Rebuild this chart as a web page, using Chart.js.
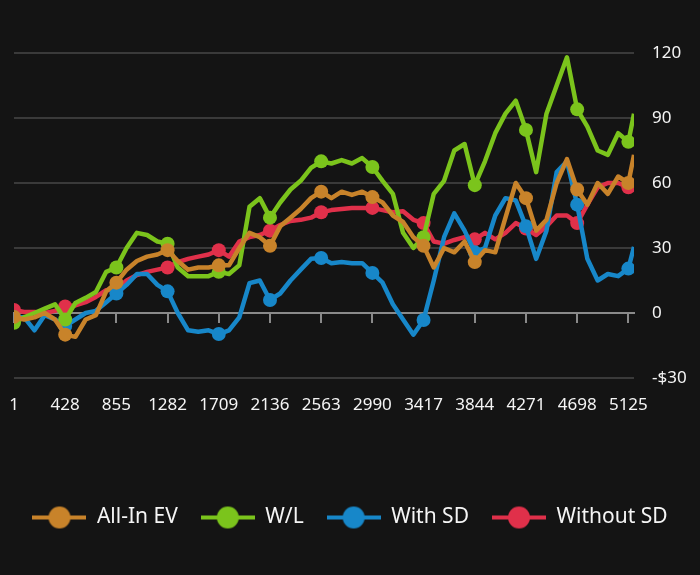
<!DOCTYPE html>
<html>
<head>
<meta charset="utf-8">
<script src="https://cdn.jsdelivr.net/npm/chart.js@4.4.1/dist/chart.umd.min.js"></script>
<style>
  html, body { margin: 0; padding: 0; background: #141414; }
  #wrap { width: 700px; height: 575px; position: relative; }
</style>
</head>
<body>
<div id="wrap"><canvas id="lineChart"></canvas></div>
<script>
// hand numbers sampled along the session
const hands = [1, 86, 172, 257, 343, 428, 513, 599, 684, 770,
  855, 940, 1026, 1111, 1197, 1282, 1367, 1453, 1538, 1624,
  1709, 1794, 1880, 1965, 2051, 2136, 2221, 2307, 2392, 2478,
  2563, 2648, 2734, 2819, 2905, 2990, 3075, 3161, 3246, 3332,
  3417, 3502, 3588, 3673, 3759, 3844, 3929, 4015, 4100, 4186,
  4271, 4356, 4442, 4527, 4613, 4698, 4783, 4869, 4954, 5040,
  5125, 5172];

const xTicks = [1, 428, 855, 1282, 1709, 2136, 2563, 2990, 3417, 3844, 4271, 4698, 5125];
const yTicks = [-30, 0, 30, 60, 90, 120];

const allInEV = [-1.8, -3, -2, 0, -3, -10, -11, -3, -1, 10,
  14, 20, 24, 26, 27, 29, 24, 20, 21, 21,
  22, 22, 30, 37, 35, 31, 40, 44, 48, 53,
  56, 53, 56, 54.5, 56, 53.5, 51, 45, 42, 35,
  31, 21, 30, 28, 33, 23.5, 29, 28, 44, 60,
  53, 38, 43, 60, 71, 57, 50, 60, 55, 63,
  60, 73];

const winLoss = [-4.5, -2, 0, 2, 4, -3, 4.6, 7, 9.7, 19,
  21, 30, 37, 36, 33, 32, 21, 17, 17, 17,
  19, 18, 22, 49, 53, 44, 51, 57, 61, 67,
  70, 69, 70.6, 69, 71.5, 67.4, 61, 55, 37, 30,
  35, 55, 61, 75, 78, 59, 70, 83, 92, 98,
  84.5, 65, 92, 105, 118, 94, 86, 75, 73, 83,
  79, 92];

const withSD = [-2, -2, -8, -1, -3, -6, -3, 0, 1, 5,
  9, 13, 18, 18, 13, 10, 0, -8, -8.7, -8,
  -9.7, -8, -2, 13.8, 15, 6, 9, 15, 20, 25,
  25.4, 23, 23.5, 23, 23, 18.5, 14, 4, -3, -10,
  -3.2, 15, 35, 46, 38, 28, 30, 45, 53, 52,
  40, 25, 38, 65, 70, 50, 25, 15, 18, 17,
  20.5, 30.5];

const withoutSD = [1.4, 0.5, 0.5, 0, 1, 3, 3.5, 5, 7.4, 10.5,
  11, 15, 17.5, 19, 20, 21, 23.5, 25, 26, 27,
  29, 26, 33, 35, 36, 38, 40.6, 42.5, 43, 44,
  46.5, 47.5, 48, 48.5, 48.5, 48.5, 47.5, 46.5, 47, 43,
  41.5, 33, 32, 33.7, 35, 34, 37, 34, 37, 41.5,
  39, 36, 40, 45, 45, 41.5, 50, 58, 60, 60,
  58, 60];

const seriesNames = ['All-In EV', 'W/L', 'With SD', 'Without SD'];
const seriesColors = ['#c8832a', '#7bc41c', '#1787c9', '#e0304a'];
const seriesValues = [allInEV, winLoss, withSD, withoutSD];

function legendIcon(color) {
  const c = document.createElement('canvas');
  c.width = 54; c.height = 24;
  const g = c.getContext('2d');
  g.strokeStyle = color;
  g.lineWidth = 4;
  g.beginPath(); g.moveTo(0, 12); g.lineTo(54, 12); g.stroke();
  g.fillStyle = color;
  g.beginPath(); g.arc(27, 12, 11, 0, Math.PI * 2); g.fill();
  return c;
}
const icons = seriesColors.map(legendIcon);

document.addEventListener('DOMContentLoaded', function () {
  const ctx = document.getElementById('lineChart').getContext('2d');
  const textColor = '#f5f5f5';
  const font = { family: '"Noto Sans", sans-serif', size: 17 };

  new Chart(ctx, {
    type: 'line',
    data: {
      datasets: seriesNames.map((name, i) => ({
        label: name,
        data: hands.map((h, j) => ({ x: h, y: seriesValues[i][j] })),
        borderColor: seriesColors[i],
        backgroundColor: seriesColors[i],
        borderWidth: 4.5,
        tension: 0,
        borderJoinStyle: 'round',
        pointRadius: c => (c.raw && xTicks.includes(c.raw.x)) ? 7 : 0,
        pointHoverRadius: 7,
        pointBorderWidth: 0,
        xAxisID: 'x',
        yAxisID: 'y'
      }))
    },
    options: {
      responsive: true,
      maintainAspectRatio: false,
      animation: false,
      layout: { padding: { left: 0, right: 0, top: 53, bottom: 37 } },
      plugins: {
        tooltip: { enabled: false },
        legend: {
          position: 'bottom',
          labels: {
            color: textColor,
            font: { family: '"Noto Sans", sans-serif', size: 21 },
            usePointStyle: true,
            pointStyleWidth: 54,
            padding: 23,
            generateLabels: chart => Chart.defaults.plugins.legend.labels.generateLabels(chart)
              .map((l, i) => ({ ...l, pointStyle: icons[i] }))
          }
        }
      },
      scales: {
        x: {
          type: 'linear',
          min: 1,
          max: 5172,
          position: 'bottom',
          afterBuildTicks: s => { s.ticks = xTicks.map(v => ({ value: v })); },
          afterFit: s => { s.height = 106; s.paddingLeft = 0; s.paddingRight = 0; },
          grid: { display: false, drawTicks: false },
          border: { display: false },
          ticks: {
            color: textColor, font: font, padding: 17,
            autoSkip: false, maxRotation: 0,
            callback: v => String(v)
          }
        },
        xz: {
          type: 'linear',
          min: 1,
          max: 5172,
          position: { y: 0 },
          afterBuildTicks: s => { s.ticks = xTicks.map(v => ({ value: v })); },
          afterFit: s => { s.paddingLeft = 0; s.paddingRight = 0; },
          grid: { drawOnChartArea: false, drawTicks: true, tickLength: 9, color: '#8a8a8a', lineWidth: 2 },
          border: { display: true, color: '#8a8a8a', width: 2 },
          ticks: { display: false }
        },
        // empty left gutter so the chart starts where the reference does
        gutter: {
          type: 'linear',
          position: 'left',
          afterFit: s => { s.width = 14; },
          grid: { display: false, drawTicks: false },
          border: { display: false },
          ticks: { display: false }
        },
        y: {
          position: 'right',
          min: -30,
          max: 120,
          afterBuildTicks: s => { s.ticks = yTicks.map(v => ({ value: v })); },
          afterFit: s => { s.width = 66; },
          grid: {
            drawTicks: false,
            color: c => c.tick && c.tick.value === 0 ? 'rgba(0,0,0,0)' : '#3a3a3a',
            lineWidth: 2
          },
          border: { display: false },
          ticks: {
            color: textColor, font: font, padding: 18,
            callback: v => v < 0 ? '-$' + Math.abs(v) : String(v)
          }
        }
      }
    }
  });
});
</script>
</body>
</html>
